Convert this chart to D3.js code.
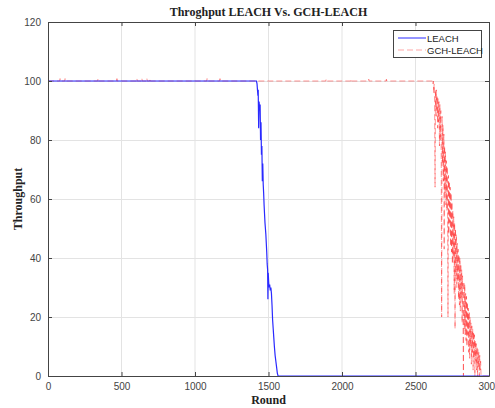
<!DOCTYPE html>
<html><head><meta charset="utf-8">
<script src="https://cdn.jsdelivr.net/npm/d3@7"></script>
<style>body{margin:0;background:#fff;}svg{display:block;}</style>
</head><body>
<svg id="c" width="495" height="408"></svg>
<script>
const xTicks = [0, 500, 1000, 1500, 2000, 2500, 3000];
const yTicks = [0, 20, 40, 60, 80, 100, 120];
const seriesNames = ["LEACH", "GCH-LEACH"];

const leachRounds = [0, 1418, 1422, 1425, 1428, 1430, 1433, 1436, 1440, 1443, 1446, 1449, 1452, 1455, 1458, 1461, 1464, 1467, 1470, 1473, 1476, 1479, 1482, 1485, 1488, 1491, 1494, 1496, 1498, 1501, 1504, 1508, 1512, 1516, 1520, 1524, 1528, 1532, 1536, 1540, 1545, 1550, 1555, 1560, 1565, 3000];
const leachValues = [100, 100, 99, 97, 95, 97, 84, 93, 90, 92, 80, 86, 75, 78, 66, 72, 65, 62, 58, 55, 52, 50, 48, 45, 42, 38, 36, 26, 35, 32, 30, 31, 29, 30, 28, 24, 19, 16, 13, 10, 7, 5, 3, 1, 0, 0];

const gchRounds = [0, 80, 82, 84, 114, 116, 118, 338, 340, 342, 467, 469, 471, 603, 605, 607, 637, 639, 641, 671, 673, 675, 692, 694, 696, 1080, 1082, 1084, 1168, 1170, 1172, 1890, 1892, 1894, 2060, 2062, 2064, 2180, 2182, 2184, 2300, 2302, 2304,
  2615, 2618, 2621, 2624, 2627, 2630, 2633, 2636, 2639, 2642, 2645, 2648, 2651, 2654, 2657, 2660, 2663, 2666, 2669, 2672, 2675, 2678, 2681, 2684, 2687, 2690, 2693, 2695, 2698,
  2701, 2704, 2707, 2710, 2713, 2716, 2719, 2721, 2724, 2727, 2730, 2733, 2736, 2739, 2742, 2745, 2748, 2751, 2754, 2757, 2760, 2763, 2766, 2769, 2772, 2775, 2778, 2781, 2784, 2787, 2790, 2793, 2796, 2799,
  2802, 2805, 2808, 2811, 2814, 2817, 2820, 2823, 2826, 2829, 2832, 2835, 2838, 2841, 2844, 2847, 2850, 2853, 2856, 2859, 2862, 2865, 2868, 2871, 2874, 2877, 2880, 2883, 2886, 2889, 2892, 2895, 2898,
  2901, 2904, 2907, 2910, 2913, 2916, 2919, 2922, 2925, 2928, 2931, 2934, 2937, 2940, 2943, 2946, 2950, 3000];
const gchValues = [100, 100, 100.8, 100, 100, 100.8, 100, 100, 100.8, 100, 100, 100.8, 100, 100, 100.8, 100, 100, 100.8, 100, 100, 100.8, 100, 100, 100.8, 100, 100, 100.8, 100, 100, 100.8, 100, 100, 100.6, 100, 100, 100.6, 100, 100, 100.6, 100, 100, 100.6, 100,
  100, 99, 100, 96, 99, 93, 64, 97, 90, 97, 88, 95, 84, 94, 86, 93, 78, 92, 80, 90, 74, 20, 88, 72, 85, 66, 82, 43, 78,
  62, 76, 58, 73, 56, 71, 50, 20, 68, 48, 66, 52, 64, 44, 62, 42, 59, 38, 56, 40, 54, 28, 52, 16, 50, 34, 48, 30, 45, 32, 43, 26, 41, 24,
  40, 22, 38, 26, 36, 18, 34, 20, 0, 32, 16, 31, 14, 28, 12, 27, 10, 25, 14, 23, 8, 22, 6, 20, 10, 18, 4, 17, 8, 16, 2, 15, 6,
  14, 0, 12, 5, 11, 2, 10, 0, 9, 3, 8, 0, 7, 2, 5, 0, 0, 0];

const svg = d3.select("#c");
const M = {l: 48, r: 489, t: 22, b: 376};
const x = d3.scaleLinear().domain([0, 3000]).range([M.l, M.r]);
const y = d3.scaleLinear().domain([0, 120]).range([M.b, M.t]);

const g = svg.append("g");
g.selectAll(".gx").data(xTicks.slice(1, -1)).enter().append("line")
  .attr("x1", d => x(d)).attr("x2", d => x(d)).attr("y1", M.t).attr("y2", M.b)
  .attr("stroke", "#e3e3e3").attr("stroke-width", 1);
g.selectAll(".gy").data(yTicks.slice(1, -1)).enter().append("line")
  .attr("y1", d => y(d) + 0.5).attr("y2", d => y(d) + 0.5).attr("x1", M.l).attr("x2", M.r)
  .attr("stroke", "#e3e3e3").attr("stroke-width", 1);

svg.append("clipPath").attr("id", "pc").append("rect")
  .attr("x", M.l).attr("y", M.t - 4).attr("width", M.r - M.l).attr("height", M.b - M.t + 5);

const line = d3.line().x(d => x(d[0])).y(d => y(d[1]));
const gchData = gchRounds.map((r, i) => [r, gchValues[i]]);
const leachData = leachRounds.map((r, i) => [r, leachValues[i]]);

svg.append("path").datum(gchData).attr("d", line).attr("clip-path", "url(#pc)")
  .attr("fill", "none").attr("stroke", "rgba(255,0,0,0.42)").attr("stroke-width", 1)
  .attr("stroke-dasharray", "6,3");
svg.append("path").datum(leachData).attr("d", line).attr("clip-path", "url(#pc)")
  .attr("fill", "none").attr("stroke", "#2a2aff").attr("stroke-width", 1.2);

const fmt = d3.format("d");
const axB = d3.axisBottom(x).tickValues(xTicks).tickFormat(fmt).tickSizeInner(-4).tickSizeOuter(0).tickPadding(7);
const axL = d3.axisLeft(y).tickValues(yTicks).tickFormat(fmt).tickSizeInner(-4).tickSizeOuter(0).tickPadding(7);
const axT = d3.axisTop(x).tickValues(xTicks).tickSizeInner(-4).tickSizeOuter(0).tickFormat("");
const axR = d3.axisRight(y).tickValues(yTicks).tickSizeInner(-4).tickSizeOuter(0).tickFormat("");
function style(sel) {
  sel.selectAll("path").attr("stroke", "#444");
  sel.selectAll("line").attr("stroke", "#444");
  sel.selectAll("text").attr("fill", "#444").attr("font-family", "Liberation Sans, Arial, sans-serif").attr("font-size", "10px");
}
svg.append("g").attr("transform", `translate(0,${M.b})`).call(axB).call(style);
svg.append("g").attr("transform", `translate(${M.l},0)`).call(axL).call(style);
svg.append("g").attr("transform", `translate(0,${M.t})`).call(axT).call(style);
svg.append("g").attr("transform", `translate(${M.r},0)`).call(axR).call(style);

svg.append("text").attr("x", (M.l + M.r) / 2).attr("y", 16).attr("text-anchor", "middle")
  .attr("font-family", "Liberation Serif, Times New Roman, serif").attr("font-weight", "bold").attr("font-size", "12px")
  .attr("fill", "#222").text("Throghput LEACH Vs. GCH-LEACH");
svg.append("text").attr("x", (M.l + M.r) / 2).attr("y", 404).attr("text-anchor", "middle")
  .attr("font-family", "Liberation Serif, Times New Roman, serif").attr("font-weight", "bold").attr("font-size", "12px")
  .attr("fill", "#222").text("Round");
svg.append("text").attr("transform", `translate(22,${(M.t + M.b) / 2}) rotate(-90)`).attr("text-anchor", "middle")
  .attr("font-family", "Liberation Serif, Times New Roman, serif").attr("font-weight", "bold").attr("font-size", "12px")
  .attr("fill", "#222").text("Throughput");

const lg = svg.append("g").attr("transform", "translate(393,30)");
lg.append("rect").attr("x", 0.5).attr("y", 0.5).attr("width", 88).attr("height", 27)
  .attr("fill", "#fff").attr("stroke", "#444").attr("stroke-width", 1);
const legStyles = [{stroke: "#2a2aff", dash: null}, {stroke: "rgba(255,0,0,0.35)", dash: "6,3"}];
seriesNames.forEach((n, i) => {
  const yy = 8 + i * 12;
  lg.append("line").attr("x1", 5).attr("x2", 33).attr("y1", yy).attr("y2", yy)
    .attr("stroke", legStyles[i].stroke).attr("stroke-width", 1).attr("stroke-dasharray", legStyles[i].dash);
  lg.append("text").attr("x", 34).attr("y", yy + 3.5).attr("font-family", "Liberation Sans, Arial, sans-serif")
    .attr("font-size", "9.5px").attr("fill", "#222").text(n);
});
</script>
</body></html>
